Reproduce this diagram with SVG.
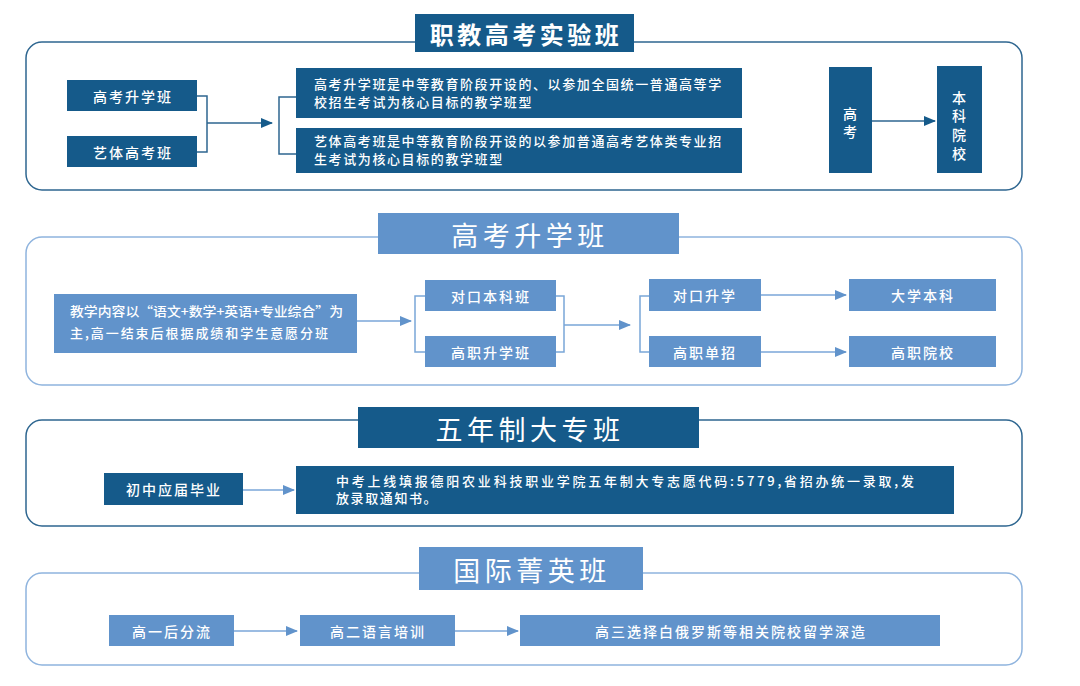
<svg xmlns="http://www.w3.org/2000/svg" width="1080" height="686" viewBox="0 0 1080 686">
<style>
text{font-family:"Noto Sans CJK SC","Noto Sans",sans-serif;fill:#fff}
.d{fill:#155a8a}
.l{fill:#6193cb}
.od{fill:none;stroke:#2e6690;stroke-width:1.5}
.ol{fill:none;stroke:#8fb4de;stroke-width:1.5}
.t{font-size:14px;letter-spacing:2px;text-anchor:middle;dominant-baseline:central;font-weight:500}
.s{font-size:13px;letter-spacing:1.6px;font-weight:500}
.h{font-size:27px;letter-spacing:4.5px;text-anchor:middle;dominant-baseline:central}
.cd{fill:none;stroke:#2e6690;stroke-width:1.5}
.cl{fill:none;stroke:#7aa6d8;stroke-width:1.5}
</style>
<defs>
<marker id="ad" markerWidth="12" markerHeight="10" refX="11" refY="5" orient="auto" markerUnits="userSpaceOnUse"><path d="M0,0 L12,5 L0,10 Z" fill="#155a8a"/></marker>
<marker id="al" markerWidth="12" markerHeight="10" refX="11" refY="5" orient="auto" markerUnits="userSpaceOnUse"><path d="M0,0 L12,5 L0,10 Z" fill="#6193cb"/></marker>
</defs>

<!-- outer frames -->
<rect class="od" x="26" y="42" width="996" height="148" rx="16"/>
<rect class="ol" x="26" y="237" width="996" height="148" rx="16"/>
<rect class="od" x="26" y="420" width="996" height="106" rx="16"/>
<rect class="ol" x="26" y="573" width="996" height="92" rx="16"/>

<g id="connectors">
<path class="cd" d="M197,96 H207 V152 H197 M207,123 H272" marker-end="url(#ad)"/>
<path class="cd" d="M296,97 H279 V154 H296"/>
<path class="cd" d="M872,121 H935" marker-end="url(#ad)"/>
<path class="cl" d="M357,321 H411" marker-end="url(#al)"/>
<path class="cl" d="M425,296 H415 V352 H425"/>
<path class="cl" d="M556,296 H564 V352 H556 M564,325 H630" marker-end="url(#al)"/>
<path class="cl" d="M649,296 H640 V352 H649"/>
<path class="cl" d="M761,295 H846" marker-end="url(#al)"/>
<path class="cl" d="M761,352 H846" marker-end="url(#al)"/>
<path class="cl" d="M243,490 H294" marker-end="url(#al)"/>
<path class="cl" d="M234,631 H297" marker-end="url(#al)"/>
<path class="cl" d="M455,631 H518" marker-end="url(#al)"/>
</g>

<g id="title1"><rect class="d" x="415" y="14" width="219" height="38"/><text class="h" x="526" y="33" style="font-size:24px;letter-spacing:3.5px;font-weight:bold">职教高考实验班</text></g>
<g id="n_gksxb"><rect class="d" x="67" y="80" width="130" height="31"/><text class="t" x="133" y="96">高考升学班</text></g>
<g id="n_ytgkb"><rect class="d" x="67" y="136" width="130" height="31"/><text class="t" x="133" y="152">艺体高考班</text></g>
<g id="n_desc1"><rect class="d" x="296" y="68" width="446" height="50"/><text class="s" x="314" y="89">高考升学班是中等教育阶段开设的、以参加全国统一普通高等学</text><text class="s" x="314" y="107">校招生考试为核心目标的教学班型</text></g>
<g id="n_desc2"><rect class="d" x="296" y="128" width="446" height="45"/><text class="s" x="314" y="146">艺体高考班是中等教育阶段开设的以参加普通高考艺体类专业招</text><text class="s" x="314" y="164">生考试为核心目标的教学班型</text></g>
<g id="n_gk"><rect class="d" x="829" y="67" width="43" height="106"/><text class="t" x="850" y="113" style="letter-spacing:0">高</text><text class="t" x="850" y="131" style="letter-spacing:0">考</text></g>
<g id="n_bkyx"><rect class="d" x="937" y="66" width="45" height="107"/><text class="t" x="959" y="97" style="letter-spacing:0">本</text><text class="t" x="959" y="115" style="letter-spacing:0">科</text><text class="t" x="959" y="134" style="letter-spacing:0">院</text><text class="t" x="959" y="153" style="letter-spacing:0">校</text></g>

<g id="title2"><rect class="l" x="378" y="213" width="301" height="41"/><text class="h" x="530" y="234">高考升学班</text></g>
<g id="n_content"><rect class="l" x="54" y="294" width="303" height="59"/><text class="s" x="70" y="316" textLength="273" lengthAdjust="spacingAndGlyphs" style="letter-spacing:0">教学内容以“语文+数学+英语+专业综合”为</text><text class="s" x="70" y="338" textLength="258" lengthAdjust="spacing" style="letter-spacing:0">主,高一结束后根据成绩和学生意愿分班</text></g>
<g id="n_dkbkb"><rect class="l" x="425" y="280" width="131" height="31"/><text class="t" x="491" y="296">对口本科班</text></g>
<g id="n_gzsxb"><rect class="l" x="425" y="336" width="131" height="31"/><text class="t" x="491" y="352">高职升学班</text></g>
<g id="n_dksx"><rect class="l" x="649" y="279" width="112" height="32"/><text class="t" x="705" y="295">对口升学</text></g>
<g id="n_gzdz"><rect class="l" x="649" y="336" width="112" height="31"/><text class="t" x="705" y="352">高职单招</text></g>
<g id="n_dxbk"><rect class="l" x="849" y="279" width="147" height="32"/><text class="t" x="923" y="295">大学本科</text></g>
<g id="n_gzyx"><rect class="l" x="849" y="336" width="147" height="31"/><text class="t" x="923" y="352">高职院校</text></g>

<g id="title3"><rect class="d" x="358" y="407" width="341" height="41"/><text class="h" x="530" y="428">五年制大专班</text></g>
<g id="n_czyj"><rect class="d" x="104" y="473" width="139" height="32"/><text class="t" x="174" y="489">初中应届毕业</text></g>
<g id="n_zk"><rect class="d" x="296" y="466" width="658" height="48"/><text class="s" x="336" y="486" textLength="578" lengthAdjust="spacing" style="letter-spacing:0">中考上线填报德阳农业科技职业学院五年制大专志愿代码:5779,省招办统一录取,发</text><text class="s" x="336" y="503">放录取通知书。</text></g>

<g id="title4"><rect class="l" x="419" y="547" width="224" height="43"/><text class="h" x="532" y="569">国际菁英班</text></g>
<g id="n_gyhfl"><rect class="l" x="109" y="615" width="125" height="31"/><text class="t" x="172" y="631">高一后分流</text></g>
<g id="n_geyy"><rect class="l" x="300" y="615" width="155" height="31"/><text class="t" x="378" y="631">高二语言培训</text></g>
<g id="n_gs"><rect class="l" x="520" y="615" width="420" height="31"/><text class="t" x="731" y="631">高三选择白俄罗斯等相关院校留学深造</text></g>
</svg>
